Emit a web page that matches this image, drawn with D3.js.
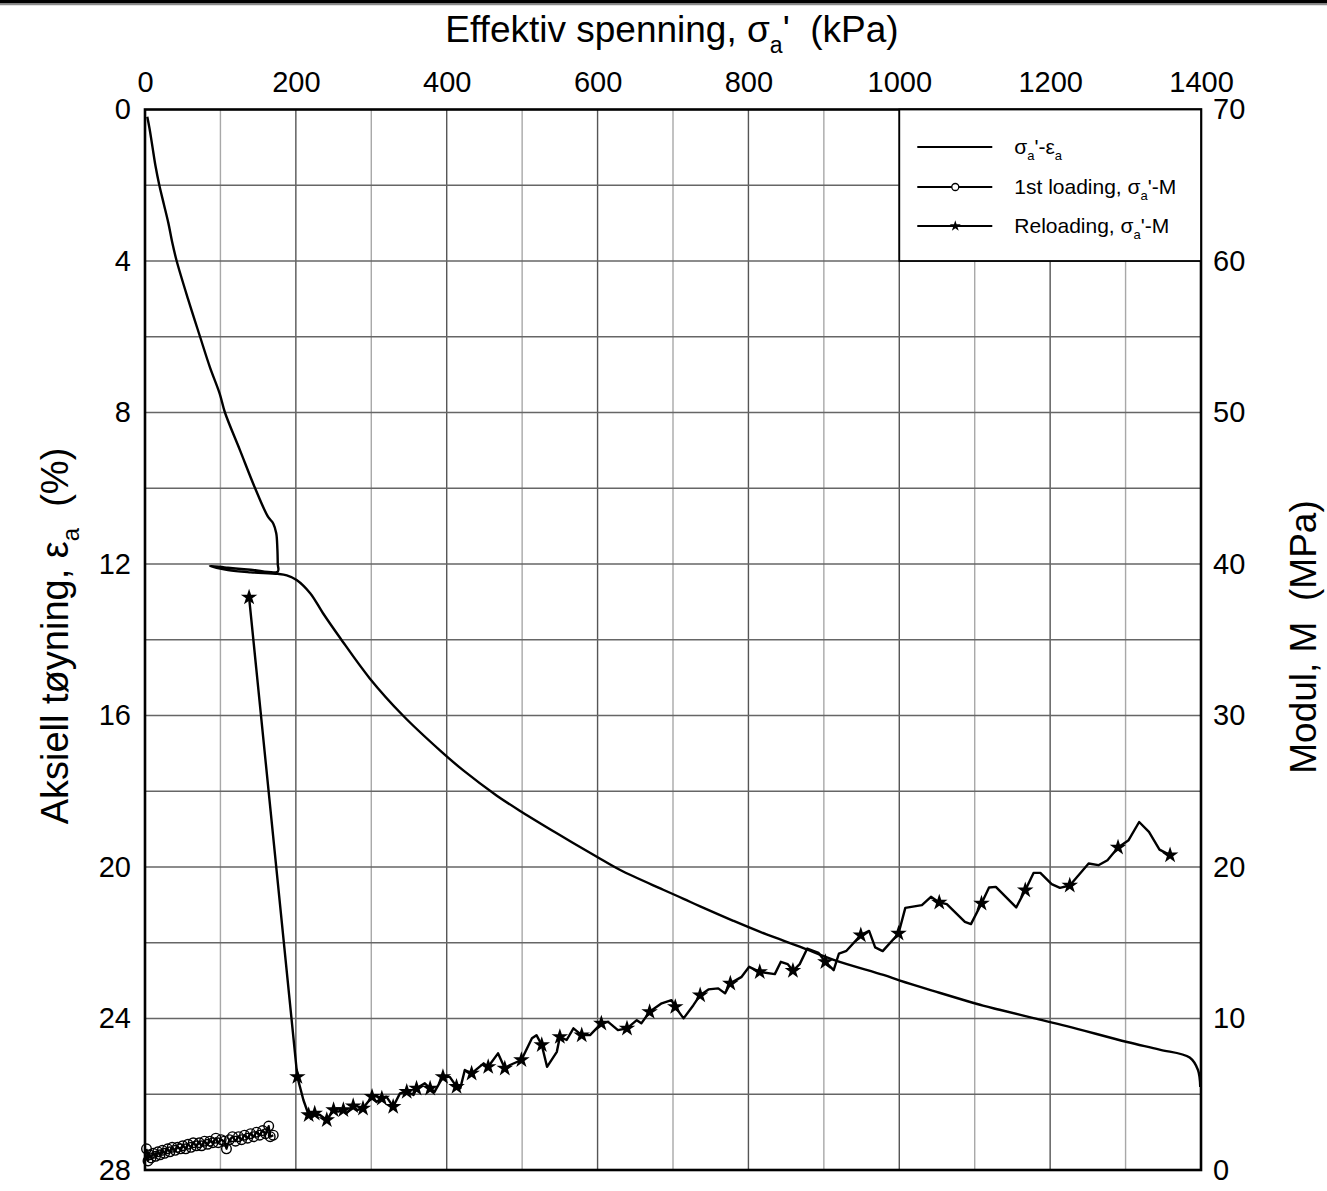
<!DOCTYPE html>
<html>
<head>
<meta charset="utf-8">
<script src="https://cdnjs.cloudflare.com/ajax/libs/d3/7.8.5/d3.min.js"></script>
<style>
    body { margin: 0; background: #fff; }
    svg { display: block; font-family: "Liberation Sans", Arial, sans-serif; }
</style>
</head>
<body>
<svg id="chart" width="1327" height="1191"></svg>
<script>
// axis ticks
var stressTicks = [0, 200, 400, 600, 800, 1000, 1200, 1400];
var strainTicks = [0, 4, 8, 12, 16, 20, 24, 28];
var modulusTicks = [0, 10, 20, 30, 40, 50, 60, 70];

// sigma_a' - eps_a curve (kPa, %)
var strainKpa = [3, 6, 10, 14, 19, 25, 31, 36, 42, 57, 73, 86, 99, 106, 126, 146, 163, 170, 174, 175.5, 176, 176,
    140, 110, 86, 110, 140, 176, 188, 201, 219, 236, 259, 298, 342, 391, 422, 466, 499, 546,
    599, 630, 687, 714, 736, 780, 824, 868, 913, 979, 1001, 1045, 1111, 1133, 1178, 1222,
    1302, 1345, 1385, 1396, 1399];
var strainPct = [0.19, 0.5, 1.0, 1.5, 2.0, 2.5, 3.0, 3.5, 4.0, 5.0, 6.0, 6.8, 7.5, 8.0, 9.0, 10.0, 10.75, 10.93, 11.19, 11.6, 12.0, 12.2,
    12.15, 12.1, 12.05, 12.16, 12.22, 12.26, 12.3, 12.42, 12.77, 13.3, 13.96, 15.02, 16.0, 16.92, 17.45, 18.11, 18.54, 19.11,
    19.73, 20.08, 20.6, 20.84, 21.04, 21.42, 21.78, 22.1, 22.45, 22.85, 23.0, 23.27, 23.66, 23.77, 23.99, 24.2,
    24.62, 24.82, 25.03, 25.36, 25.81];

// 1st loading, sigma_a' - M (kPa, MPa)
var load1Kpa = [2, 4, 6, 8, 11, 14, 17, 20, 23, 26, 30, 33, 36, 40, 43, 47, 50, 54, 57, 61, 64, 68,
    72, 75, 79, 83, 86, 90, 94, 97, 101, 105, 108, 112, 116, 120, 124, 128, 132, 136, 140, 144,
    148, 152, 156, 160, 164, 166, 170];
var load1M = [1.4, 0.6, 1.0, 0.8, 1.1, 0.9, 1.2, 1.0, 1.3, 1.1, 1.4, 1.2, 1.5, 1.3, 1.5, 1.4, 1.6, 1.4, 1.7, 1.5, 1.8, 1.6,
    1.8, 1.6, 1.9, 1.7, 1.9, 1.8, 2.1, 1.8, 2.0, 1.9, 1.4, 2.0, 2.2, 1.9, 2.2, 2.0, 2.3, 2.1, 2.4, 2.2,
    2.5, 2.3, 2.6, 2.4, 2.9, 2.2, 2.3];

// reloading, sigma_a' - M (kPa, MPa); star = point drawn with a marker
var reloadKpa = [138, 202, 210, 217, 225, 232, 241, 250, 256, 263, 267, 276, 281, 289, 301, 307, 314, 320, 329,
    338, 347, 356, 360, 371, 378, 384, 395, 404, 413, 418, 424, 433, 449, 455, 468, 477, 484, 499,
    513, 519, 526, 533, 546, 550, 559, 568, 579, 590, 605, 614, 627, 639, 652, 658, 669, 685, 698,
    703, 714, 727, 736, 747, 760, 769, 776, 791, 801, 815, 835, 843, 852, 859, 868, 878, 893, 902,
    913, 920, 930, 949, 960, 968, 978, 999, 1008, 1030, 1042, 1053, 1063, 1087, 1095, 1109, 1119,
    1128, 1155, 1167, 1178, 1187, 1202, 1213, 1226, 1251, 1264, 1276, 1290, 1304, 1318, 1331, 1345, 1359];
var reloadM = [37.8, 6.15, 4.62, 3.63, 3.74, 3.63, 3.3, 3.96, 3.85, 3.96, 3.74, 4.22, 3.96, 4.07, 4.84, 4.5, 4.73, 4.84, 4.18,
    5.06, 5.17, 4.95, 5.39, 5.72, 5.39, 5.17, 6.15, 6.15, 5.5, 5.39, 6.6, 6.38, 7.04, 6.81, 7.7, 6.71, 6.93, 7.26,
    8.69, 8.9, 8.25, 6.81, 7.8, 8.79, 8.58, 9.35, 8.9, 8.9, 9.68, 9.78, 9.23, 9.35, 9.89, 9.68, 10.44, 11.0, 11.21,
    10.77, 10.01, 10.88, 11.54, 11.92, 11.99, 11.66, 12.32, 12.75, 13.41, 13.08, 12.93, 13.74, 13.59, 13.15, 13.59, 14.62, 14.33, 13.74,
    13.19, 14.29, 14.47, 15.5, 15.78, 14.69, 14.45, 15.61, 17.3, 17.48, 18.03, 17.66, 17.55, 16.38, 16.23, 17.59, 18.65,
    18.69, 17.33, 18.47, 19.61, 19.61, 18.87, 18.62, 18.78, 20.23, 20.12, 20.45, 21.29, 21.77, 22.97, 22.32, 21.15, 20.78];
var reloadStar = [1, 1, 0, 1, 1, 0, 1, 1, 0, 1, 0, 1, 0, 1, 1, 0, 1, 0, 1,
    0, 1, 0, 1, 0, 1, 0, 1, 0, 1, 0, 0, 1, 0, 1, 0, 1, 0, 1,
    0, 0, 1, 0, 0, 1, 0, 0, 1, 0, 1, 0, 0, 1, 0, 0, 1, 0, 0,
    1, 0, 0, 1, 0, 0, 0, 1, 0, 0, 1, 0, 0, 0, 1, 0, 0, 0, 1,
    0, 0, 0, 1, 0, 0, 0, 1, 0, 0, 0, 1, 0, 0, 0, 1, 0,
    0, 0, 1, 0, 0, 0, 0, 1, 0, 0, 0, 1, 0, 0, 0, 0, 1];

(function () {
    var svg = d3.select("#chart"),
        margin = { top: 109.5, right: 126, bottom: 21, left: 145 },
        width = +svg.attr("width") - margin.left - margin.right,
        height = +svg.attr("height") - margin.top - margin.bottom,
        g = svg.append("g").attr("transform", "translate(" + margin.left + "," + margin.top + ")");

    var x = d3.scaleLinear().domain([0, 1400]).range([0, width]);
    var yStrain = d3.scaleLinear().domain([0, 28]).range([0, height]);
    var yMod = d3.scaleLinear().domain([0, 70]).range([height, 0]);

    // adds text pieces [text, isSubscript] to a text element of font size px
    function richText(sel, parts, px) {
        var shifted = false;
        sel.attr("font-size", px + "px");
        parts.forEach(function (p) {
            var t = sel.append("tspan").text(p[0]);
            if (p[1]) {
                t.attr("font-size", Math.round(px * 0.62) + "px").attr("dy", px * 0.3);
                shifted = true;
            } else if (shifted) {
                t.attr("dy", -px * 0.3);
                shifted = false;
            }
        });
        return sel;
    }

    // top black bar
    svg.append("rect").attr("x", 0).attr("y", 0).attr("width", 1327).attr("height", 3.5).attr("fill", "#000");
    svg.append("line").attr("x1", 0).attr("x2", 1327).attr("y1", 4.5).attr("y2", 4.5)
        .attr("stroke", "#8a8a8a").attr("stroke-width", 1.5);

    // grid
    g.append("g").selectAll("line")
        .data(d3.range(100, 1400, 100))
        .enter().append("line")
        .attr("x1", function (d) { return x(d); })
        .attr("x2", function (d) { return x(d); })
        .attr("y1", 0).attr("y2", height)
        .attr("stroke", function (d) { return d % 200 === 0 ? "#555" : "#a8a8a8"; })
        .attr("stroke-width", 1.4);
    g.append("g").selectAll("line")
        .data(d3.range(2, 28, 2))
        .enter().append("line")
        .attr("y1", function (d) { return yStrain(d); })
        .attr("y2", function (d) { return yStrain(d); })
        .attr("x1", 0).attr("x2", width)
        .attr("stroke", "#666")
        .attr("stroke-width", 1.4);

    // axes, labels only
    var topAxis = g.append("g")
        .call(d3.axisTop(x).tickValues(stressTicks).tickSize(0).tickPadding(18).tickFormat(d3.format("d")));
    var leftAxis = g.append("g")
        .call(d3.axisLeft(yStrain).tickValues(strainTicks).tickSize(0).tickPadding(14).tickFormat(d3.format("d")));
    var rightAxis = g.append("g")
        .attr("transform", "translate(" + width + ",0)")
        .call(d3.axisRight(yMod).tickValues(modulusTicks).tickSize(0).tickPadding(12).tickFormat(d3.format("d")));
    [topAxis, leftAxis, rightAxis].forEach(function (a) {
        a.select(".domain").remove();
        a.selectAll("text").attr("font-size", "29px").attr("fill", "#000")
            .attr("font-family", "'Liberation Sans', Arial, sans-serif");
    });

    // curves
    var strainData = strainKpa.map(function (k, i) { return [k, strainPct[i]]; });
    var load1Data = load1Kpa.map(function (k, i) { return [k, load1M[i]]; });
    var reloadData = reloadKpa.map(function (k, i) { return [k, reloadM[i], reloadStar[i]]; });

    var lineStrain = d3.line()
        .curve(d3.curveCatmullRom.alpha(0.5))
        .x(function (d) { return x(d[0]); })
        .y(function (d) { return yStrain(d[1]); });
    var lineMod = d3.line()
        .x(function (d) { return x(d[0]); })
        .y(function (d) { return yMod(d[1]); });

    g.append("path").datum(strainData)
        .attr("d", lineStrain)
        .attr("fill", "none").attr("stroke", "#000").attr("stroke-width", 2.4)
        .attr("stroke-linejoin", "round");

    g.append("path").datum(load1Data)
        .attr("d", lineMod)
        .attr("fill", "none").attr("stroke", "#000").attr("stroke-width", 2.2)
        .attr("stroke-linejoin", "round");
    g.append("g").selectAll("circle")
        .data(load1Data)
        .enter().append("circle")
        .attr("cx", function (d) { return x(d[0]); })
        .attr("cy", function (d) { return yMod(d[1]); })
        .attr("r", 4.8)
        .attr("fill", "none").attr("stroke", "#000").attr("stroke-width", 1.4);

    g.append("path").datum(reloadData)
        .attr("d", lineMod)
        .attr("fill", "none").attr("stroke", "#000").attr("stroke-width", 2.4)
        .attr("stroke-linejoin", "round");
    var star = d3.symbol().type(d3.symbolStar).size(85);
    g.append("g").selectAll("path")
        .data(reloadData.filter(function (d) { return d[2]; }))
        .enter().append("path")
        .attr("d", star)
        .attr("transform", function (d) { return "translate(" + x(d[0]) + "," + yMod(d[1]) + ")"; })
        .attr("fill", "#000");

    // frame
    g.append("rect")
        .attr("width", width).attr("height", height)
        .attr("fill", "none").attr("stroke", "#000").attr("stroke-width", 2.6);

    // legend
    var lx = x(1000), ly = 0, lw = width - lx, lh = yStrain(4);
    var legend = g.append("g");
    legend.append("rect")
        .attr("x", lx).attr("y", ly).attr("width", lw).attr("height", lh)
        .attr("fill", "#fff").attr("stroke", "#000").attr("stroke-width", 1.8);
    var rows = [
        { y: 37.5, mark: "none", parts: [["\u03c3", 0], ["a", 1], ["'-\u03b5", 0], ["a", 1]] },
        { y: 77.5, mark: "circle", parts: [["1st loading, \u03c3", 0], ["a", 1], ["'-M", 0]] },
        { y: 116.5, mark: "star", parts: [["Reloading, \u03c3", 0], ["a", 1], ["'-M", 0]] }
    ];
    rows.forEach(function (r) {
        legend.append("line")
            .attr("x1", lx + 18).attr("x2", lx + 93)
            .attr("y1", r.y).attr("y2", r.y)
            .attr("stroke", "#000").attr("stroke-width", 1.8);
        if (r.mark === "circle") {
            legend.append("circle").attr("cx", lx + 56).attr("cy", r.y).attr("r", 3.5)
                .attr("fill", "#fff").attr("stroke", "#000").attr("stroke-width", 1.3);
        } else if (r.mark === "star") {
            legend.append("path").attr("d", d3.symbol().type(d3.symbolStar).size(38))
                .attr("transform", "translate(" + (lx + 56) + "," + r.y + ")").attr("fill", "#000");
        }
        richText(legend.append("text")
            .attr("x", lx + 115).attr("y", r.y + 7), r.parts, 21);
    });

    // axis titles
    richText(svg.append("text")
        .attr("x", 672).attr("y", 42)
        .attr("text-anchor", "middle")
        .style("white-space", "pre"), [["Effektiv spenning, \u03c3", 0], ["a", 1], ["'  (kPa)", 0]], 37);

    richText(svg.append("text")
        .attr("transform", "translate(68,636) rotate(-90)")
        .attr("text-anchor", "middle")
        .style("white-space", "pre"), [["Aksiell t\u00f8yning, \u03b5", 0], ["a", 1], ["  (%)", 0]], 38);

    svg.append("text")
        .attr("transform", "translate(1316,637) rotate(-90)")
        .attr("text-anchor", "middle")
        .attr("font-size", "37px")
        .style("white-space", "pre")
        .text("Modul, M  (MPa)");
})();
</script>
</body>
</html>
